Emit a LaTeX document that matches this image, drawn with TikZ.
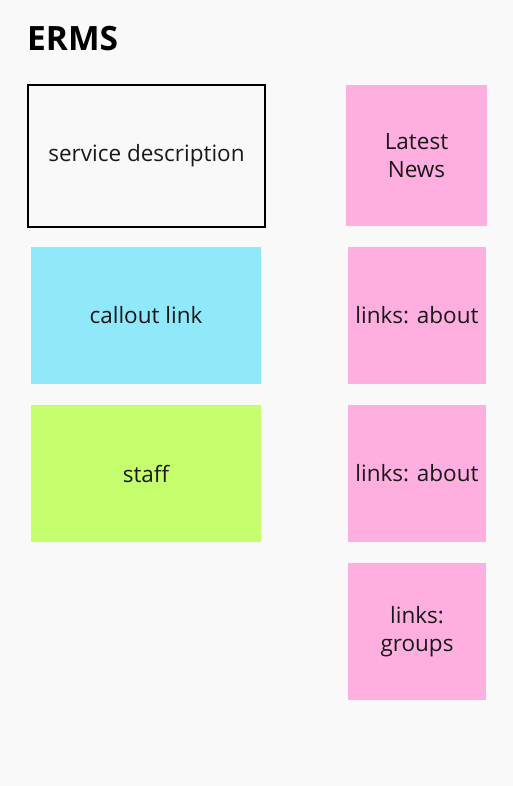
\documentclass[tikz,border=0pt]{standalone}
\usepackage{fontspec}
\setmainfont{Open Sans}
\definecolor{bg}{HTML}{F9F9F9}
\definecolor{pinkc}{HTML}{FFAEE0}
\definecolor{cyanc}{HTML}{8FE9FB}
\definecolor{limec}{HTML}{C6FF6E}
\tikzset{
  card/.style={draw=none, minimum width=#1, inner sep=0pt, align=center, font=\fontsize{22.5}{28}\selectfont, text=black!90},
}
\begin{document}
\begin{tikzpicture}[x=1pt,y=-1pt]
\fill[bg] (0,0) rectangle (513,786);
\useasboundingbox (0,0) rectangle (513,786);
\node[anchor=base west, font=\bfseries\fontsize{33.5}{33}\selectfont, inner sep=0pt] (title) at (27,50.5) {ERMS};
\node[card=237pt, minimum height=142pt, fill=bg, draw=black, line width=2.5pt] (sd) at (146.5,156) {service description};
\node[card=141pt, minimum height=141pt, fill=pinkc] (news) at (416.5,155.5) {Latest\\News};
\node[card=230pt, minimum height=137pt, fill=cyanc] (callout) at (146,315.5) {callout link};
\node[card=138pt, minimum height=137pt, fill=pinkc] (about1) at (417,315.5) {links: about};
\node[card=230pt, minimum height=137pt, fill=limec] (staff) at (146,473.5) {staff};
\node[card=138pt, minimum height=137pt, fill=pinkc] (about2) at (417,473.5) {links: about};
\node[card=138pt, minimum height=137pt, fill=pinkc] (groups) at (417,631.5) {links:\\groups};
\end{tikzpicture}
\end{document}
